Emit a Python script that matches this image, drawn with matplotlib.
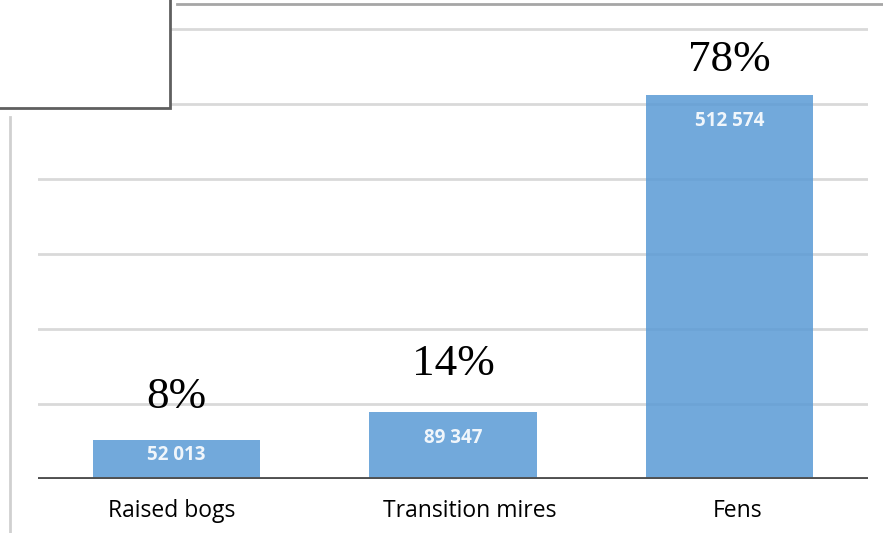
import matplotlib
matplotlib.use("Agg")
import matplotlib.pyplot as plt
from matplotlib.patches import Rectangle
from matplotlib.lines import Line2D
import numpy as np

# peatland area by type
categories = ["Raised bogs", "Transition mires", "Fens"]
areas = [52013, 89347, 512574]
shares = ["8%", "14%", "78%"]
grid_values = [100000, 200000, 300000, 400000, 500000, 600000]

W, H = 883, 533
fig = plt.figure(figsize=(W / 100, H / 100), dpi=100)

# axes in pixel units -> figure fraction
left, right, base = 38, 868, 479
px_per_unit = 75 / 100000
ymax = 630000
ax = fig.add_axes([left / W, (H - base) / H, (right - left) / W, ymax * px_per_unit / H])

x = np.arange(len(categories))
bars = ax.bar(x, areas, width=0.605, color="#5b9bd5", alpha=0.86, zorder=2)

ax.set_xlim(-0.5, 2.5)
ax.set_ylim(0, ymax)
for g in grid_values:
    ax.axhline(g, color="#d9d9d9", lw=2, zorder=1)
ax.axhline(0, color="#505050", lw=2.8, zorder=3)

for s in ax.spines.values():
    s.set_visible(False)
ax.set_yticks([])
ax.set_xticks([])

# category names below the axis, nudged sideways as in the source layout
name_shift = [-3, 12, 5.5]
for xi, name, dx in zip(x, categories, name_shift):
    ax.annotate(name, (xi, 0), xytext=(dx, -27.4), textcoords="offset points",
                ha="center", va="baseline", color="black",
                fontfamily="Open Sans", fontsize=16.5, annotation_clip=False)

# value inside each bar (short bar gets its label centred)
inner_offsets = [-11, -19, -19]
for xi, v, off in zip(x, areas, inner_offsets):
    lbl = f"{v:,}".replace(",", " ")
    ax.annotate(lbl, (xi, v), xytext=(0, off), textcoords="offset points",
                ha="center", va="center", color="white", alpha=0.9,
                fontfamily="Open Sans", fontweight="bold", fontsize=13.5, zorder=4)

# share above each bar
share_offsets = [23, 26.5, 17]
for xi, v, s, off in zip(x, areas, shares, share_offsets):
    ax.annotate(s, (xi, v), xytext=(0, off), textcoords="offset points",
                ha="center", va="baseline", color="black",
                fontfamily="Liberation Serif", fontsize=32.5, zorder=4,
                annotation_clip=False)

# framing elements around the chart
def fx(px):
    return px / W

def fy(py):
    return 1 - py / H

fig.add_artist(Line2D([fx(177), fx(883)], [fy(4), fy(4)], color="#a6a6a6", lw=2))
fig.add_artist(Line2D([fx(10), fx(10)], [fy(117), fy(533)], color="#d0d0d0", lw=2))
box = Rectangle((fx(-5), fy(108)), fx(175), 1 - fy(108) + 0.02, facecolor="white",
                edgecolor="#5f5f5f", lw=2, zorder=10, transform=fig.transFigure)
fig.add_artist(box)

fig.savefig("out.png", dpi=100)
